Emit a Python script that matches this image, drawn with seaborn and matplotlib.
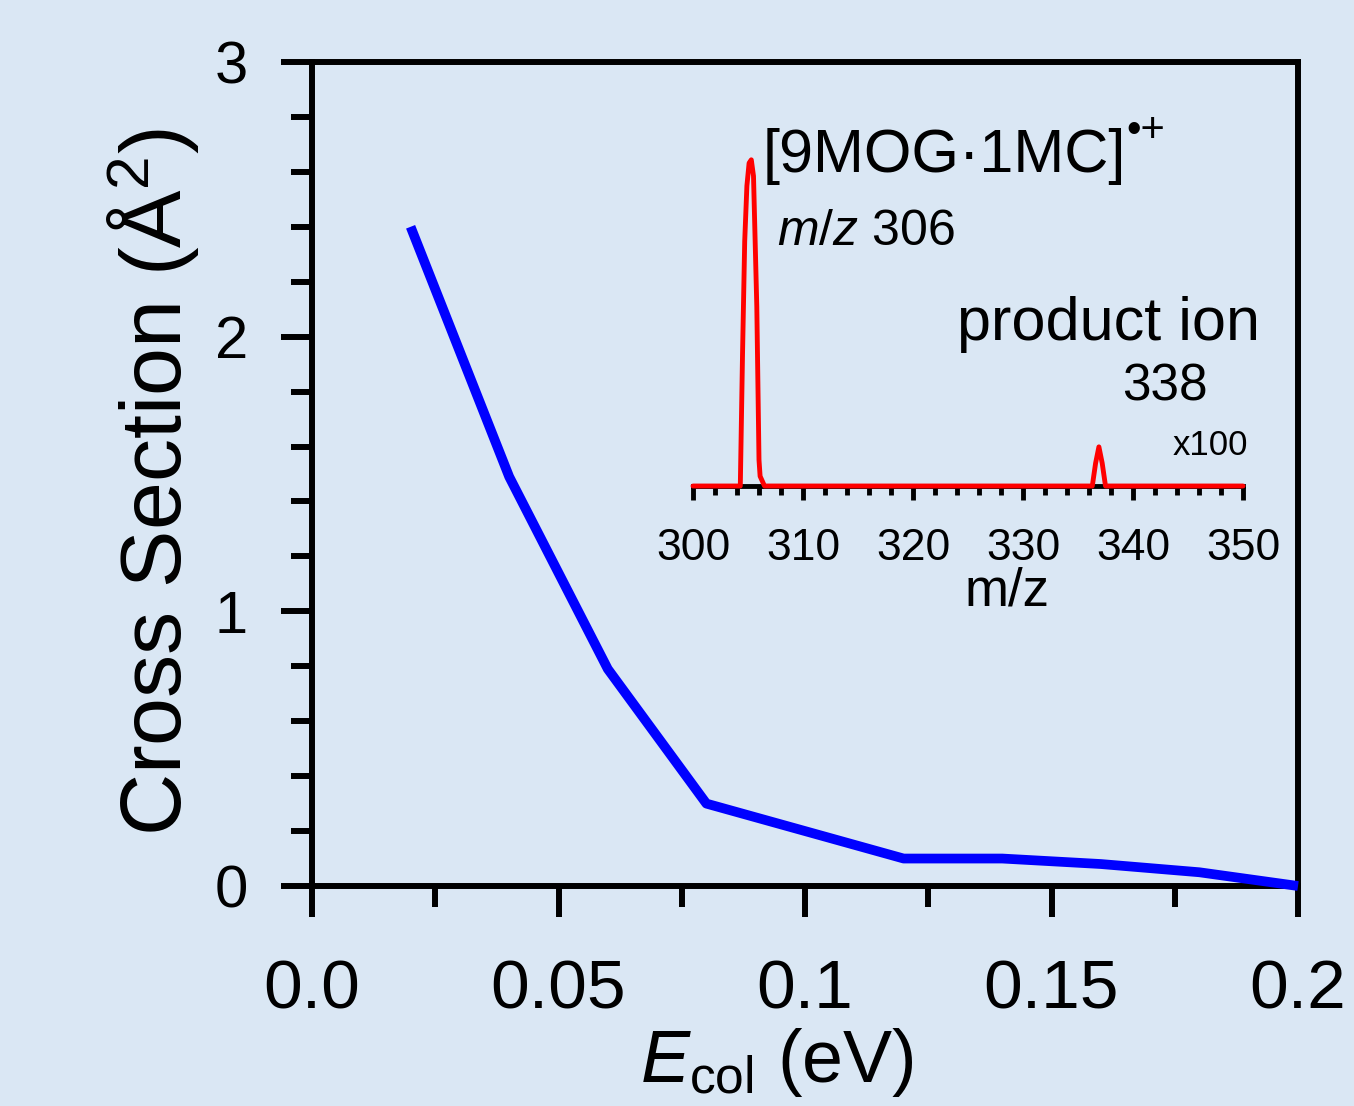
import numpy as np
import pandas as pd
import matplotlib
matplotlib.use("Agg")
import matplotlib.pyplot as plt
import seaborn as sns

# Main curve: cross section vs collision energy
e_col = [0.02, 0.04, 0.06, 0.08, 0.10, 0.12, 0.14, 0.16, 0.18, 0.20]
cross_section = [2.40, 1.49, 0.79, 0.30, 0.20, 0.10, 0.10, 0.08, 0.05, 0.00]
x_ticks = [0.0, 0.05, 0.10, 0.15, 0.20]
x_tick_labels = ['0.0', '0.05', '0.1', '0.15', '0.2']
y_ticks = [0, 1, 2, 3]
y_tick_labels = ['0', '1', '2', '3']

# Inset: mass spectrum (product region scaled x100)
mz = [300, 304.3, 304.5, 304.7, 304.9, 305.1, 305.3, 305.5, 305.8, 306.0, 306.1, 306.5,
      336.3, 336.6, 336.9, 337.2, 337.5, 350]
intensity = [0, 0, 40, 75, 92, 99, 100, 95, 55, 8, 3, 0,
             0, 7, 12, 7, 0, 0]
mz_ticks = [300, 310, 320, 330, 340, 350]

bg = '#dae7f4'
sns.set_style('ticks')
plt.rcParams['font.family'] = ['Liberation Sans', 'DejaVu Sans']
plt.rcParams['mathtext.fontset'] = 'custom'
plt.rcParams['mathtext.rm'] = 'Liberation Sans'
plt.rcParams['mathtext.it'] = 'Liberation Sans:italic'
plt.rcParams['axes.facecolor'] = bg
plt.rcParams['figure.facecolor'] = bg
for key in ['text.color', 'axes.labelcolor', 'xtick.color', 'ytick.color', 'axes.edgecolor']:
    plt.rcParams[key] = 'black'

W, H = 1354, 1106
fig = plt.figure(figsize=(W / 100, H / 100), dpi=100)

def fx(px):
    return px / W

def fy(py):
    return 1 - py / H

# main axes
ax = fig.add_axes([fx(312), fy(886), (1298 - 312) / W, (886 - 62) / H])
df = pd.DataFrame({'E': e_col, 'sigma': cross_section})
sns.lineplot(data=df, x='E', y='sigma', ax=ax, color='#0000ff', lw=7,
             zorder=3, clip_on=False, solid_capstyle='butt')
ax.set_xlim(0, 0.2)
ax.set_ylim(0, 3)
for s in ax.spines.values():
    s.set_linewidth(4.3)
    s.set_color('black')
ax.set_xticks(x_ticks, x_tick_labels)
ax.set_xticks(np.arange(0.025, 0.2, 0.05), minor=True)
ax.set_yticks(y_ticks, y_tick_labels)
ax.set_yticks(np.arange(0.2, 3.0, 0.2), minor=True)
ax.tick_params(axis='x', which='major', direction='out', length=22, width=4.3,
               labelsize=50, pad=30)
ax.tick_params(axis='x', which='minor', direction='out', length=15, width=4.3)
ax.tick_params(axis='y', which='major', direction='out', length=22, width=4.3,
               labelsize=43, pad=24)
ax.tick_params(axis='y', which='minor', direction='out', length=15, width=4.3)
ax.set_xlabel(r'$\mathit{E}_{\mathrm{col}}$ (eV)', fontsize=53)
ax.xaxis.set_label_coords(0.4716, -0.170)
ax.set_ylabel('Cross Section (Å$^2$)', fontsize=62)
ax.yaxis.set_label_coords(-0.1126, 0.49)

# inset
ax_in = fig.add_axes([fx(693), fy(486), (1243 - 693) / W, (486 - 150) / H])
ax_in.patch.set_alpha(0)
spec = pd.DataFrame({'mz': mz, 'I': intensity})
sns.lineplot(data=spec, x='mz', y='I', ax=ax_in, color='#ff0000', lw=3.5,
             zorder=3, clip_on=False, sort=False)
ax_in.set_xlim(300, 350)
ax_in.set_ylim(0, 103)
for side in ['left', 'top', 'right']:
    ax_in.spines[side].set_visible(False)
ax_in.spines['bottom'].set_linewidth(3.5)
ax_in.spines['bottom'].set_color('black')
ax_in.set_yticks([])
ax_in.set_xticks(mz_ticks)
ax_in.set_xticks(np.arange(302, 350, 2), minor=True)
ax_in.tick_params(axis='x', which='major', direction='out', length=10, width=3.5,
                  labelsize=32, pad=20)
ax_in.tick_params(axis='x', which='minor', direction='out', length=6.5, width=3.5)
ax_in.set_xlabel('m/z', fontsize=38)
ax_in.xaxis.set_label_coords(0.571, -0.24)
ax_in.set_ylabel('')

# inset annotations
fig.text(fx(763), fy(172), '[9MOG·1MC]', fontsize=44, va='baseline')
fig.text(fx(1126), fy(142), '•+', fontsize=30, va='baseline')
fig.text(fx(777), fy(245), r'$\mathit{m/z}$ 306', fontsize=36, va='baseline')
fig.text(fx(957), fy(340), 'product ion', fontsize=44, va='baseline')
fig.text(fx(1122), fy(400), '338', fontsize=37, va='baseline')
fig.text(fx(1173), fy(455), 'x100', fontsize=25, va='baseline')

fig.savefig('out.png', dpi=100, facecolor=bg)
